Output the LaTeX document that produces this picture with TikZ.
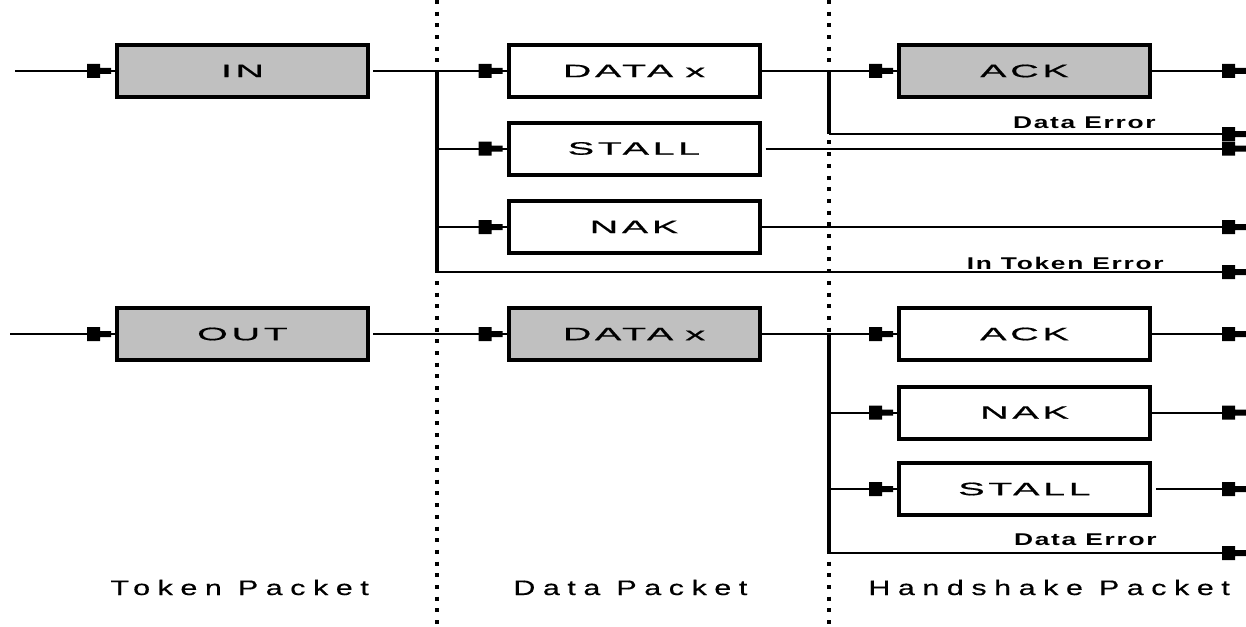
\documentclass[tikz,border=0pt]{standalone}
\usepackage{fontspec}
\setmainfont{Liberation Sans}
% wide, tracked faces for the packet labels
\newfontfamily\boxfont[FakeStretch=2.2,LetterSpace=20,FakeBold=0.6]{Liberation Sans}
\newfontfamily\capfont[FakeStretch=1.45,LetterSpace=36,FakeBold=0.5]{Liberation Sans}
\newfontfamily\errfont[FakeStretch=1.55,LetterSpace=10]{Liberation Sans Bold}

\definecolor{boxgray}{HTML}{C0C0C0}

% stepped "plug" arrow tip: wide rear block, narrow front block
\pgfdeclarearrow{
  name=Plug,
  setup code={
    \pgfarrowssettipend{0pt}
    \pgfarrowssetlineend{-1pt}
    \pgfarrowssetbackend{-12pt}
    \pgfarrowshullpoint{0pt}{1.5pt}
    \pgfarrowshullpoint{0pt}{-1.5pt}
    \pgfarrowshullpoint{-12pt}{3.5pt}
    \pgfarrowshullpoint{-12pt}{-3.5pt}
  },
  drawing code={
    \pgfpathmoveto{\pgfqpoint{-12pt}{-3.5pt}}
    \pgfpathlineto{\pgfqpoint{-12pt}{3.5pt}}
    \pgfpathlineto{\pgfqpoint{-5.5pt}{3.5pt}}
    \pgfpathlineto{\pgfqpoint{-5.5pt}{1.5pt}}
    \pgfpathlineto{\pgfqpoint{0pt}{1.5pt}}
    \pgfpathlineto{\pgfqpoint{0pt}{-1.5pt}}
    \pgfpathlineto{\pgfqpoint{-5.5pt}{-1.5pt}}
    \pgfpathlineto{\pgfqpoint{-5.5pt}{-3.5pt}}
    \pgfpathclose
    \pgfusepathqfill
  },
}
% same tip, set back from the end of the line
\pgfdeclarearrow{
  name=PlugGap,
  setup code={
    \pgfarrowssettipend{0pt}
    \pgfarrowssetlineend{0pt}
    \pgfarrowssetbackend{-15pt}
    \pgfarrowshullpoint{0pt}{1.5pt}
    \pgfarrowshullpoint{0pt}{-1.5pt}
    \pgfarrowshullpoint{-15pt}{3.5pt}
    \pgfarrowshullpoint{-15pt}{-3.5pt}
  },
  drawing code={
    \pgfpathmoveto{\pgfqpoint{-15pt}{-3.5pt}}
    \pgfpathlineto{\pgfqpoint{-15pt}{3.5pt}}
    \pgfpathlineto{\pgfqpoint{-8.5pt}{3.5pt}}
    \pgfpathlineto{\pgfqpoint{-8.5pt}{1.5pt}}
    \pgfpathlineto{\pgfqpoint{-3pt}{1.5pt}}
    \pgfpathlineto{\pgfqpoint{-3pt}{-1.5pt}}
    \pgfpathlineto{\pgfqpoint{-8.5pt}{-1.5pt}}
    \pgfpathlineto{\pgfqpoint{-8.5pt}{-3.5pt}}
    \pgfpathclose
    \pgfusepathqfill
  },
}

\tikzset{
  pkt/.style={draw, line width=2pt, fill=white, minimum width=125.5pt,
    minimum height=26pt, inner sep=0pt, outer sep=0pt,
    font=\boxfont\fontsize{9}{11}\selectfont},
  tok/.style={pkt, fill=boxgray},
  wire/.style={line width=1pt},
  bus/.style={line width=2pt},
  sect/.style={line width=2pt, dash pattern=on 2pt off 3.85pt},
  feed/.style={wire, -PlugGap},
  sink/.style={wire, -Plug},
  errlbl/.style={inner sep=0pt, font=\errfont\fontsize{8.5}{10}\selectfont},
  seclbl/.style={inner sep=0pt, font=\capfont\fontsize{10.5}{12}\selectfont},
}

\begin{document}
\begin{tikzpicture}[x=0.5pt, y=-0.5pt]
  \useasboundingbox[fill=white] (0,0) rectangle (1246,626);

  % section dividers
  \draw[sect] (437,0) -- (437,626);
  \draw[sect] (828.5,0) -- (828.5,626);

  % packets
  \node[tok] (in)  at (242.5,71)   {IN};
  \node[tok] (out) at (242.5,334)  {OUT};
  \node[pkt] (dx1) at (634,71)     {DATA\hskip6pt x};
  \node[pkt] (st1) at (634,148.5)  {STALL};
  \node[pkt] (nk1) at (634,227)    {NAK};
  \node[tok] (dx2) at (634,334)    {DATA\hskip6pt x};
  \node[tok] (ak1) at (1024.5,71)  {ACK};
  \node[pkt] (ak2) at (1024.5,334) {ACK};
  \node[pkt] (nk2) at (1024.5,412.5) {NAK};
  \node[pkt] (st2) at (1024.5,489) {STALL};

  % sources, junctions and sinks
  \coordinate (srcA) at (15,71);
  \coordinate (srcB) at (10,334);
  \coordinate (j1a) at (437,71);
  \coordinate (j1b) at (437,272);
  \coordinate (j2a) at (828.5,71);
  \coordinate (j2b) at (828.5,134);
  \coordinate (j3a) at (828.5,334);
  \coordinate (j3b) at (828.5,553);
  \coordinate (rim) at (1246,0);

  % IN transaction
  \draw[feed] (srcA) -- (in.west);
  \draw[feed, shorten <=2.5pt] (in.east) -- (dx1.west);
  \draw[bus] (j1a) -- (j1b);
  \draw[feed] (j1a |- st1) -- (st1.west);
  \draw[feed] (j1a |- nk1) -- (nk1.west);
  \draw[sink] (j1b) -- (rim |- j1b);
  \draw[feed] (dx1.east) -- (ak1.west);
  \draw[sink] (ak1.east) -- (rim |- ak1);
  \draw[bus] (j2a) -- (j2b);
  \draw[sink] (j2b) -- (rim |- j2b);
  \draw[sink, shorten <=3pt] (st1.east) -- (rim |- st1);
  \draw[sink] (nk1.east) -- (rim |- nk1);

  % OUT transaction
  \draw[feed] (srcB) -- (out.west);
  \draw[feed, shorten <=2.5pt] (out.east) -- (dx2.west);
  \draw[feed] (dx2.east) -- (ak2.west);
  \draw[bus] (j3a) -- (j3b);
  \draw[feed] (j3a |- nk2) -- (nk2.west);
  \draw[feed] (j3a |- st2) -- (st2.west);
  \draw[sink] (j3b) -- (rim |- j3b);
  \draw[sink] (ak2.east) -- (rim |- ak2);
  \draw[sink] (nk2.east) -- (rim |- nk2);
  \draw[sink, shorten <=3pt] (st2.east) -- (rim |- st2);

  % error labels
  \node[errlbl, anchor=base east] (de1) at (1156,128) {Data Error};
  \node[errlbl, anchor=base east] (ite) at (1164,269) {In Token Error};
  \node[errlbl, anchor=base east] (de2) at (1157,545) {Data Error};

  % section captions
  \node[seclbl, anchor=base west] (tp) at (110,595) {Token Packet};
  \node[seclbl, anchor=base west] (dp) at (513,595) {Data Packet};
  \node[seclbl, anchor=base west] (hp) at (868,595) {Handshake Packet};
\end{tikzpicture}
\end{document}
